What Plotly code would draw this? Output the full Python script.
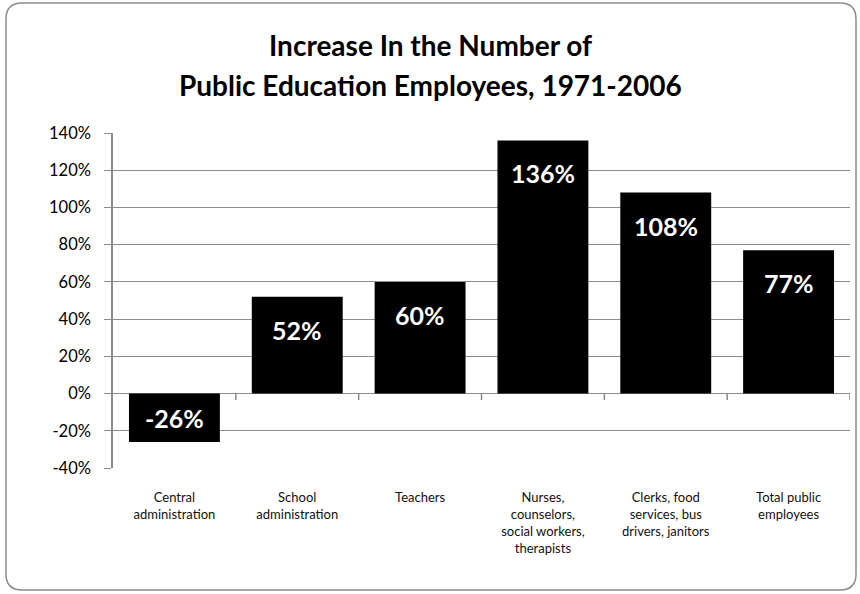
import plotly.graph_objects as go

categories = ["Central<br>administration", "School<br>administration", "Teachers",
              "Nurses,<br>counselors,<br>social workers,<br>therapists",
              "Clerks, food<br>services, bus<br>drivers, janitors",
              "Total public<br>employees"]
values = [-26, 52, 60, 136, 108, 77]
labels = ["-26%", "52%", "60%", "136%", "108%", "77%"]
y_ticks = [-40, -20, 0, 20, 40, 60, 80, 100, 120, 140]
y_ticktext = ["-40%", "-20%", "0%", "20%", "40%", "60%", "80%", "100%", "120%", "140%"]
title_lines = ["Increase In the Number of", "Public Education Employees, 1971-2006"]

W, H = 860, 594
L, R, T, B = 113, 10, 133, 126
pw, ph = W - L - R, H - T - B

def px2x(px):
    return (px - L) / pw

def py2y(py):
    return (H - B - py) / ph

fig = go.Figure()
fig.add_trace(go.Bar(x=list(range(len(categories))), y=values,
                     marker=dict(color="black", line=dict(width=0)),
                     hoverinfo="skip"))

lab_font = dict(family="Lato", size=25, color="white", weight="bold")
annotations = []
for i, (v, lab) in enumerate(zip(values, labels)):
    if v >= 0:
        annotations.append(dict(x=i, y=v, text=lab, showarrow=False, yanchor="middle",
                                yshift=-33, xref="x", yref="y", font=lab_font))
    else:
        annotations.append(dict(x=i, y=v / 2, text=lab, showarrow=False, yanchor="middle",
                                xref="x", yref="y", font=lab_font))

for line, py in zip(title_lines, [45, 85]):
    annotations.append(dict(x=px2x(430), y=py2y(py), xref="paper", yref="paper",
                            text=line, showarrow=False, xanchor="center", yanchor="middle",
                            font=dict(family="Lato", size=28, color="black", weight="bold")))

shapes = []
# small tick marks on the zero line between categories
for i in range(len(categories)):
    shapes.append(dict(type="line", xref="x", yref="y", x0=i + 0.5, x1=i + 0.5,
                       y0=0, y1=-3.5, line=dict(color="#8c8c8c", width=1.5)))

# rounded border
x0, x1 = px2x(6), px2x(856)
y0, y1 = py2y(590), py2y(3)
rx, ry = 16 / pw, 16 / ph
path = (f"M {x0+rx},{y1} L {x1-rx},{y1} Q {x1},{y1} {x1},{y1-ry} "
        f"L {x1},{y0+ry} Q {x1},{y0} {x1-rx},{y0} L {x0+rx},{y0} "
        f"Q {x0},{y0} {x0},{y0+ry} L {x0},{y1-ry} Q {x0},{y1} {x0+rx},{y1} Z")
shapes.append(dict(type="path", xref="paper", yref="paper", path=path,
                   line=dict(color="#8c8c8c", width=1.5), layer="below"))

fig.update_layout(
    width=W, height=H,
    margin=dict(l=L, r=R, t=T, b=B),
    paper_bgcolor="white", plot_bgcolor="white",
    bargap=0.26,
    showlegend=False,
    xaxis=dict(tickmode="array", tickvals=list(range(len(categories))), ticktext=categories,
               range=[-0.5, len(categories) - 0.5], showgrid=False, zeroline=False,
               showline=False, ticks="", ticklabelstandoff=20,
               tickfont=dict(family="Lato", size=13, color="#111111")),
    yaxis=dict(range=[-40, 140], tickmode="array", tickvals=y_ticks, ticktext=y_ticktext,
               showgrid=True, gridcolor="#8c8c8c", gridwidth=1.3,
               zeroline=True, zerolinecolor="#8c8c8c", zerolinewidth=1.3,
               showline=True, linecolor="#8c8c8c", linewidth=1.5,
               ticks="outside", ticklen=7, tickcolor="#8c8c8c", tickwidth=1.3,
               ticklabelstandoff=10,
               tickfont=dict(family="Lato", size=16.5, color="#000000")),
    annotations=annotations,
    shapes=shapes,
)

fig.write_html("out.html")
